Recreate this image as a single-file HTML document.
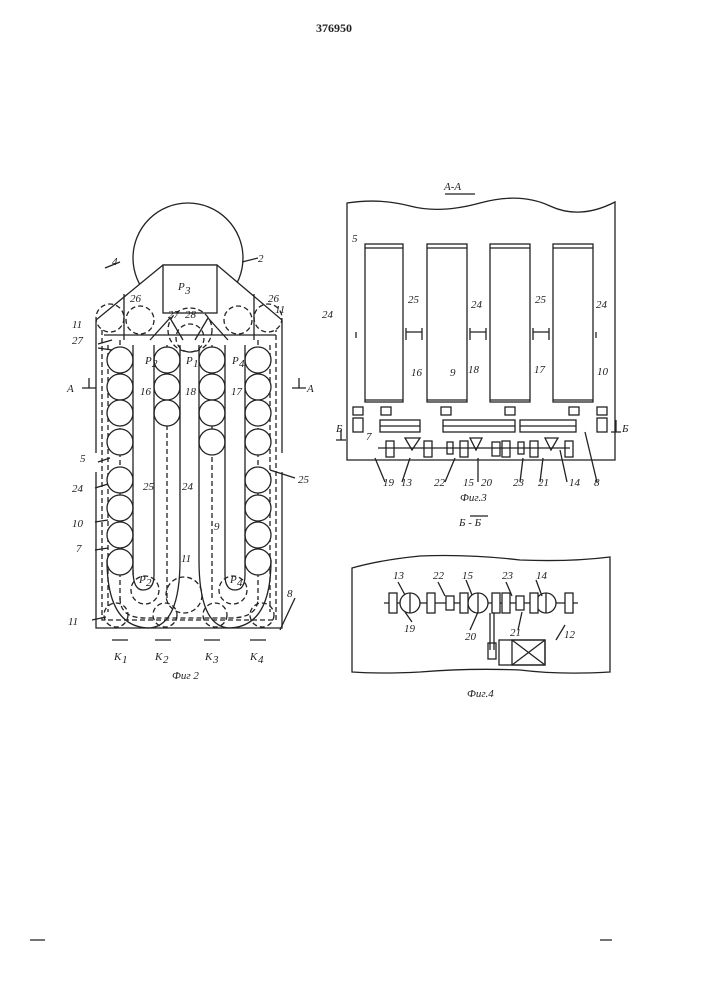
<!DOCTYPE html>
<html><head><meta charset="utf-8"><style>
html,body{margin:0;padding:0;background:#fff;}
svg{display:block}
text{font-family:"Liberation Serif",serif;font-style:italic;fill:#222;font-size:11px}
</style></head><body>
<svg width="707" height="1000" viewBox="0 0 707 1000" xmlns="http://www.w3.org/2000/svg">
<g stroke="#222" fill="none" stroke-width="1.3">
<!-- Fig 2 -->
<circle cx="188" cy="258" r="55" fill="#fff"/>
<path d="M96 628 V320 L163 265 H217 L282 320 V628 Z" fill="#fff"/>
<rect x="163" y="265" width="54" height="48" fill="#fff"/>
<path d="M124 294 V340 M254 294 V340 M104 335 H276"/>
<path d="M96 453 V472 M282 453 V472" stroke="#fff" stroke-width="3"/>
<path d="M102 330 V620 H276 V330" stroke-dasharray="5,3"/>
<path d="M108 345 V612 M270 345 V612" stroke-dasharray="5,3"/>
<g stroke-dasharray="5,3">
<circle cx="110" cy="318" r="14"/><circle cx="268" cy="318" r="14"/>
<circle cx="140" cy="320" r="14"/><circle cx="238" cy="320" r="14"/>
<circle cx="190" cy="330" r="22"/><circle cx="190" cy="338" r="14"/>
<circle cx="145" cy="590" r="14"/><circle cx="233" cy="590" r="14"/>
<circle cx="184" cy="595" r="18"/>
<circle cx="116" cy="615" r="12"/><circle cx="165" cy="615" r="12"/><circle cx="215" cy="615" r="12"/><circle cx="262" cy="615" r="12"/>
<line x1="120" y1="340" x2="120" y2="600"/><line x1="258" y1="340" x2="258" y2="600"/>
<line x1="167" y1="345" x2="167" y2="600"/><line x1="212" y1="345" x2="212" y2="600"/>
<path d="M120 598 Q120 618 145 618 H230 Q258 618 258 598"/>
</g>
<g fill="#fff">
<circle cx="120" cy="360" r="13"/><circle cx="120" cy="387" r="13"/><circle cx="120" cy="413" r="13"/><circle cx="120" cy="442" r="13"/>
<circle cx="120" cy="480" r="13"/><circle cx="120" cy="508" r="13"/><circle cx="120" cy="535" r="13"/><circle cx="120" cy="562" r="13"/>
<circle cx="167" cy="360" r="13"/><circle cx="167" cy="387" r="13"/><circle cx="167" cy="413" r="13"/>
<circle cx="212" cy="360" r="13"/><circle cx="212" cy="387" r="13"/><circle cx="212" cy="413" r="13"/><circle cx="212" cy="442" r="13"/>
<circle cx="258" cy="360" r="13"/><circle cx="258" cy="387" r="13"/><circle cx="258" cy="413" r="13"/><circle cx="258" cy="442" r="13"/>
<circle cx="258" cy="480" r="13"/><circle cx="258" cy="508" r="13"/><circle cx="258" cy="535" r="13"/><circle cx="258" cy="562" r="13"/>
</g>
<path d="M133 345 V575 M154 345 V575 M180 345 V560 M199 345 V560 M225 345 V575 M245 345 V575"/>
<path d="M107 560 Q107 628 150 628 Q180 625 180 560 M199 560 Q199 625 228 628 Q271 628 271 560"/>
<path d="M133 570 Q133 590 143 590 Q154 590 154 575 M225 575 Q225 590 235 590 Q245 590 245 575"/>
<path d="M150 340 L170 318 L183 340 M195 340 L208 318 L228 340"/>
<path d="M112 640 H128 M155 640 H171 M204 640 H220 M250 640 H266"/>
<path d="M82 388 H96 M89 388 V378 M292 388 H306 M299 388 V378"/>
<path d="M105 268 L120 262 M242 262 L258 258 M98 344 L112 340 M98 348 L112 350 M98 462 L110 458 M95 488 L108 484 M95 522 L108 520 M95 550 L108 548 M92 620 L106 617 M280 630 L295 598 M270 470 L295 478"/>
<!-- Fig 3 -->
<path d="M347 460 V203 Q380 198 410 206 T480 203 T550 206 T615 202 V460 Z"/>
<rect x="365" y="244" width="38" height="158"/><rect x="427" y="244" width="40" height="158"/>
<rect x="490" y="244" width="40" height="158"/><rect x="553" y="244" width="40" height="158"/>
<path d="M365 248 H403 M427 248 H467 M490 248 H530 M553 248 H593 M365 400 H403 M427 400 H467 M490 400 H530 M553 400 H593"/>
<path d="M356 332 V338 M406 332 H422 V338 M470 332 H486 V338 M533 332 H549 V338 M596 332 V338 M422 328 V340 M486 328 V340 M549 328 V340 M406 328 V340 M470 328 V340 M533 328 V340"/>
<rect x="380" y="420" width="40" height="12"/><rect x="443" y="420" width="72" height="12"/><rect x="520" y="420" width="56" height="12"/>
<path d="M380 426 H420 M443 426 H515 M520 426 H576"/>
<rect x="353" y="407" width="10" height="8"/><rect x="381" y="407" width="10" height="8"/><rect x="441" y="407" width="10" height="8"/><rect x="505" y="407" width="10" height="8"/><rect x="569" y="407" width="10" height="8"/><rect x="597" y="407" width="10" height="8"/>
<rect x="353" y="418" width="10" height="14"/><rect x="597" y="418" width="10" height="14"/>
<path d="M378 448 H570"/>
<rect x="386" y="441" width="8" height="16"/><rect x="424" y="441" width="8" height="16"/><rect x="447" y="442" width="6" height="12"/><rect x="460" y="441" width="8" height="16"/><rect x="492" y="442" width="8" height="14"/><rect x="502" y="441" width="8" height="16"/><rect x="518" y="442" width="6" height="12"/><rect x="530" y="441" width="8" height="16"/><rect x="565" y="441" width="8" height="16"/>
<path d="M405 438 L420 438 L412 450 Z M470 438 L482 438 L476 450 Z M545 438 L558 438 L551 450 Z"/>
<path d="M341 430 V440 M336 440 H346 M616 420 V432 M611 432 H621"/>
<path d="M375 458 L385 482 M410 458 L402 482 M455 458 L445 482 M478 458 L478 482 M523 458 L520 482 M543 458 L540 482 M560 450 L567 482 M585 432 L597 482"/>
<path d="M445 194 H475 M470 516 H488"/>
<!-- Fig 4 -->
<path d="M352 672 V568 Q380 560 420 556 Q470 554 520 560 Q570 562 610 557 V672 Q560 675 520 670 Q470 668 420 672 Q380 674 352 672 Z"/>
<path d="M384 603 H578"/>
<circle cx="410" cy="603" r="10" fill="#fff"/><circle cx="478" cy="603" r="10" fill="#fff"/><circle cx="546" cy="603" r="10" fill="#fff"/>
<path d="M410 593 V613 M478 593 V613 M546 593 V613"/>
<rect x="389" y="593" width="8" height="20" fill="#fff"/><rect x="427" y="593" width="8" height="20" fill="#fff"/><rect x="446" y="596" width="8" height="14" fill="#fff"/><rect x="460" y="593" width="8" height="20" fill="#fff"/><rect x="492" y="593" width="8" height="20" fill="#fff"/><rect x="502" y="593" width="8" height="20" fill="#fff"/><rect x="516" y="596" width="8" height="14" fill="#fff"/><rect x="530" y="593" width="8" height="20" fill="#fff"/><rect x="565" y="593" width="8" height="20" fill="#fff"/>
<path d="M490 613 V650 M494 613 V650"/>
<rect x="488" y="643" width="8" height="16"/>
<rect x="499" y="640" width="46" height="25"/><rect x="512" y="640" width="33" height="25"/>
<path d="M512 640 L545 665 M545 640 L512 665"/>
<path d="M398 582 L405 595 M438 582 L445 596 M466 580 L472 595 M506 582 L512 596 M536 580 L542 596 M405 612 L412 622 M478 612 L470 630 M522 612 L518 630 M556 640 L565 625"/>
<path d="M30 940 H45 M600 940 H612"/>
</g>
<g>
<text x="316" y="32" style="font-style:normal;font-weight:bold;font-size:12px">376950</text>
<text x="112" y="265">4</text><text x="258" y="262">2</text><text x="268" y="302">26</text>
<text x="130" y="302">26</text><text x="168" y="318">27</text><text x="185" y="318">28</text><text x="178" y="290">P</text><text x="185" y="294" font-size="8">3</text>
<text x="275" y="313">11</text><text x="72" y="328">11</text><text x="72" y="344">27</text>
<text x="67" y="392">A</text><text x="307" y="392">A</text>
<text x="145" y="364">P</text><text x="152" y="367" font-size="8">2</text><text x="186" y="364">P</text><text x="193" y="367" font-size="8">1</text><text x="232" y="364">P</text><text x="239" y="367" font-size="8">4</text>
<text x="140" y="395">16</text><text x="185" y="395">18</text><text x="231" y="395">17</text>
<text x="80" y="462">5</text><text x="72" y="492">24</text><text x="72" y="527">10</text><text x="76" y="552">7</text><text x="68" y="625">11</text>
<text x="143" y="490">25</text><text x="182" y="490">24</text><text x="298" y="483">25</text><text x="214" y="530">9</text>
<text x="181" y="562">11</text><text x="139" y="583">P</text><text x="146" y="586" font-size="8">2</text><text x="230" y="583">P</text><text x="237" y="586" font-size="8">4</text>
<text x="287" y="597">8</text>
<text x="114" y="660">K</text><text x="122" y="663" font-size="8">1</text><text x="155" y="660">K</text><text x="163" y="663" font-size="8">2</text><text x="205" y="660">K</text><text x="213" y="663" font-size="8">3</text><text x="250" y="660">K</text><text x="258" y="663" font-size="8">4</text>
<text x="172" y="679" font-size="12">Фиг 2</text>
<text x="444" y="190" font-size="13">А-А</text>
<text x="352" y="242">5</text><text x="322" y="318">24</text><text x="408" y="303">25</text><text x="471" y="308">24</text><text x="535" y="303">25</text><text x="596" y="308">24</text>
<text x="411" y="376">16</text><text x="450" y="376">9</text><text x="468" y="373">18</text><text x="534" y="373">17</text><text x="597" y="375">10</text>
<text x="336" y="432">Б</text><text x="622" y="432">Б</text><text x="366" y="440">7</text>
<text x="383" y="486">19</text><text x="401" y="486">13</text><text x="434" y="486">22</text><text x="463" y="486">15</text><text x="481" y="486">20</text><text x="513" y="486">23</text><text x="538" y="486">21</text><text x="569" y="486">14</text><text x="594" y="486">8</text>
<text x="460" y="501" font-size="12">Фиг.3</text>
<text x="459" y="526" font-size="12">Б - Б</text>
<text x="393" y="579">13</text><text x="433" y="579">22</text><text x="462" y="579">15</text><text x="502" y="579">23</text><text x="536" y="579">14</text>
<text x="404" y="632">19</text><text x="465" y="640">20</text><text x="510" y="636">21</text><text x="564" y="638">12</text>
<text x="467" y="697" font-size="12">Фиг.4</text>
</g>
</svg>
</body></html>
